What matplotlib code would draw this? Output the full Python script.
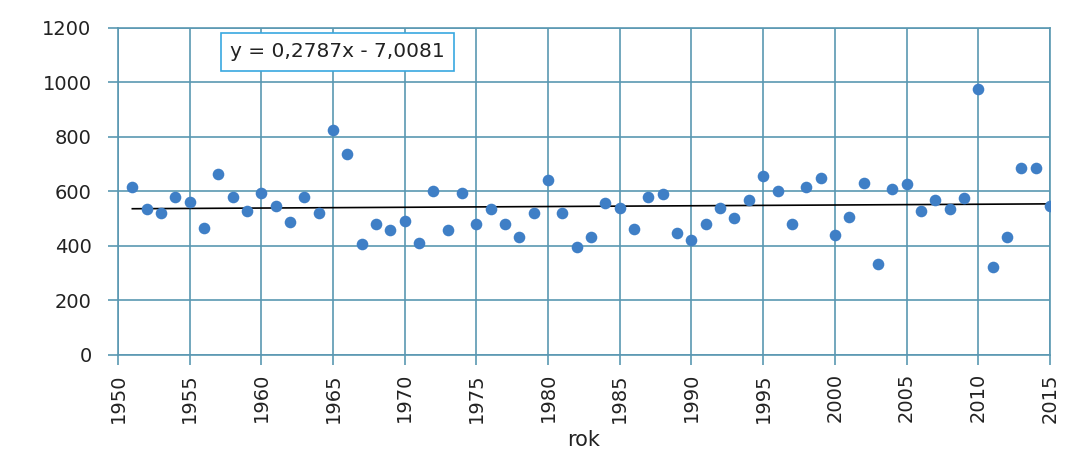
import numpy as np
import matplotlib.pyplot as plt

# rok / wartosc
years = np.arange(1951, 2016)
values = [
    615, 535, 520, 581, 563, 467, 664, 581, 528, 596,
    548, 487, 581, 522, 826, 738, 406, 480, 459, 493,
    412, 602, 459, 596, 480, 534, 480, 434, 522, 642,
    522, 397, 434, 557, 538, 461, 581, 590, 446, 422,
    480, 541, 502, 569, 657, 603, 480, 615, 651, 440,
    508, 630, 333, 609, 626, 528, 569, 536, 577, 975,
    324, 434, 685, 685, 548,
]
slope, intercept = 0.2787, -7.0081
x_ticks = list(range(1950, 2016, 5))
y_ticks = list(range(0, 1201, 200))

grid_col = "#5a98b2"
point_col = "#3f7fc6"

plt.rcParams['font.family'] = ['DejaVu Sans']

fig = plt.figure(figsize=(10.66, 4.58), dpi=100)
ax = fig.add_axes([0.1107, 0.2249, 0.8742, 0.714])

ax.scatter(years, values, s=70, color=point_col, zorder=3, linewidths=0)
trend_x = np.array([years[0], years[-1]])
ax.plot(trend_x, slope * trend_x + intercept, color="black", lw=1.2, zorder=2)

ax.set_xlim(1950, 2015)
ax.set_ylim(0, 1200)
ax.set_xticks(x_ticks)
ax.set_yticks(y_ticks)
ax.set_xticklabels([str(t) for t in x_ticks], rotation=90)
ax.tick_params(axis='both', labelsize=14, color=grid_col, length=7, width=1.2,
               labelcolor='#222222')
ax.tick_params(axis='y', pad=12)
ax.tick_params(axis='x', pad=6)
ax.grid(True, color=grid_col, lw=1.2)
ax.set_axisbelow(True)
for sp in ax.spines.values():
    sp.set_color(grid_col)
    sp.set_linewidth(1.2)

ax.set_xlabel("rok", fontsize=15, labelpad=5, color='#222222')

ax.text(1965.3, 1112, "y = 0,2787x - 7,0081", fontsize=14.5, ha='center', va='center',
        color='#222222',
        bbox=dict(boxstyle='square,pad=0.45', fc='white', ec='#38a8e0', lw=1.2), zorder=4)

fig.savefig("out.png", dpi=100)
